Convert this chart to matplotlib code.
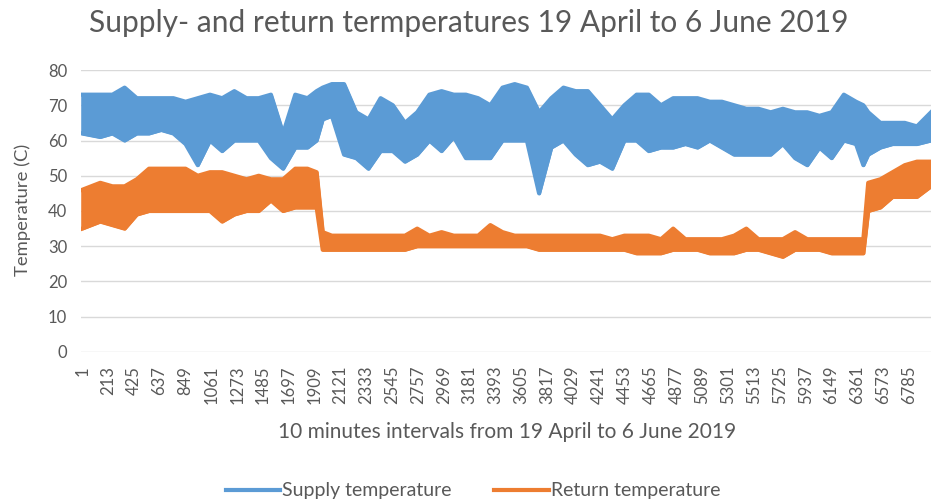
import matplotlib
matplotlib.use("Agg")
import matplotlib.pyplot as plt

# sample positions (10-minute interval index) and envelope of the noisy series
intervals = [1, 150, 250, 350, 450, 550, 650, 750, 850, 950, 1050, 1150, 1250, 1350,
             1450, 1550, 1650, 1750, 1850, 1925, 1975, 2050, 2150, 2250, 2350, 2450,
             2550, 2650, 2750, 2850, 2950, 3050, 3150, 3250, 3350, 3450, 3550, 3650,
             3750, 3850, 3950, 4050, 4150, 4250, 4350, 4450, 4550, 4650, 4750, 4850,
             4950, 5050, 5150, 5250, 5350, 5450, 5550, 5650, 5750, 5850, 5950, 6050,
             6150, 6250, 6350, 6410, 6450, 6550, 6650, 6750, 6850, 6965]

supply_hi = [73, 73, 73, 75, 72, 72, 72, 72, 71, 72, 73, 72, 74, 72, 72, 73, 62, 73, 72,
             74, 75, 76, 76, 68, 66, 72, 70, 65, 68, 73, 74, 73, 73, 72, 70, 75, 76, 75,
             68, 72, 75, 74, 74, 70, 66, 70, 73, 73, 70, 72, 72, 72, 71, 71, 70, 69, 69,
             68, 69, 68, 68, 67, 68, 73, 71, 70, 68, 65, 65, 65, 64, 68]
supply_lo = [62, 61, 62, 60, 62, 62, 63, 62, 59, 53, 60, 57, 60, 60, 60, 55, 52, 58, 58,
             60, 66, 67, 56, 55, 52, 57, 57, 54, 56, 60, 57, 61, 55, 55, 55, 60, 60, 60,
             45, 58, 60, 56, 53, 54, 52, 60, 60, 57, 58, 58, 59, 58, 60, 58, 56, 56, 56,
             56, 59, 55, 53, 58, 55, 60, 59, 53, 56, 58, 59, 59, 59, 60]

return_hi = [46, 48, 47, 47, 49, 52, 52, 52, 52, 50, 51, 51, 50, 49, 50, 49, 49, 52, 52,
             51, 34, 33, 33, 33, 33, 33, 33, 33, 35, 33, 34, 33, 33, 33, 36, 34, 33, 33,
             33, 33, 33, 33, 33, 33, 32, 33, 33, 33, 32, 35, 32, 32, 32, 32, 33, 35, 32,
             32, 32, 34, 32, 32, 32, 32, 32, 32, 48, 49, 51, 53, 54, 54]
return_lo = [35, 37, 36, 35, 39, 40, 40, 40, 40, 40, 40, 37, 39, 40, 40, 43, 40, 41, 41,
             41, 29, 29, 29, 29, 29, 29, 29, 29, 30, 30, 30, 30, 30, 30, 30, 30, 30, 30,
             29, 29, 29, 29, 29, 29, 29, 29, 28, 28, 28, 29, 29, 29, 28, 28, 28, 29, 29,
             28, 27, 29, 29, 29, 28, 28, 28, 28, 40, 41, 44, 44, 44, 47]

tick_pos = [1, 213, 425, 637, 849, 1061, 1273, 1485, 1697, 1909, 2121, 2333, 2545, 2757,
            2969, 3181, 3393, 3605, 3817, 4029, 4241, 4453, 4665, 4877, 5089, 5301, 5513,
            5725, 5937, 6149, 6361, 6573, 6785]
tick_labels = [str(t) for t in tick_pos]

blue = "#5B9BD5"
orange = "#ED7D31"
txt = "#595959"

plt.rcParams['font.family'] = ['Lato', 'DejaVu Sans']

fig = plt.figure(figsize=(9.31, 5.04), dpi=100)
ax = fig.add_axes([0.087, 0.3016, 0.913, 0.5595])

ax.fill_between(intervals, supply_lo, supply_hi, color=blue, lw=2, zorder=3)
ax.plot(intervals, supply_hi, color=blue, lw=3, zorder=3, label="Supply temperature")
ax.plot(intervals, supply_lo, color=blue, lw=3, zorder=3)

ax.fill_between(intervals, return_lo, return_hi, color=orange, lw=2, zorder=4)
ax.plot(intervals, return_hi, color=orange, lw=3, zorder=4, label="Return temperature")
ax.plot(intervals, return_lo, color=orange, lw=3, zorder=4)

ax.set_xlim(-8, 6965)
ax.set_ylim(0, 80)
ax.set_yticks(range(0, 81, 10))
ax.set_xticks(tick_pos)
ax.set_xticklabels(tick_labels, rotation=90)
ax.tick_params(axis='both', length=0, labelsize=12, colors=txt)
ax.tick_params(axis='y', pad=10)
ax.tick_params(axis='x', pad=10)
ax.grid(axis='y', color="#D9D9D9", lw=1)
ax.set_axisbelow(True)
for s in ax.spines.values():
    s.set_visible(False)

fig.text(0.504, 0.954, "Supply- and return termperatures 19 April to 6 June 2019",
         ha='center', va='center', fontsize=21.5, color=txt)
fig.text(0.024, 0.583, "Temperature (C)", rotation=90, ha='center', va='center',
         fontsize=13.3, color=txt)
fig.text(0.545, 0.143, "10 minutes intervals from 19 April to 6 June 2019",
         ha='center', va='center', fontsize=15, color=txt)

fig.legend(loc='center', bbox_to_anchor=(0.508, 0.026), ncol=2, frameon=False,
           fontsize=14, labelcolor=txt, handlelength=2.8, handletextpad=0.1,
           columnspacing=2.2)

fig.savefig("out.png", dpi=100)
